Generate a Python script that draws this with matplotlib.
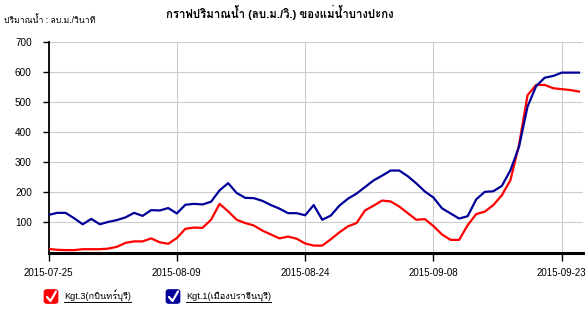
import matplotlib
matplotlib.use("Agg")
import matplotlib.pyplot as plt
import numpy as np
import pandas as pd
from matplotlib import font_manager
from matplotlib.ft2font import FT2Font
from matplotlib.lines import Line2D
from matplotlib.patches import FancyBboxPatch

# data (daily, 2015-07-25 .. 2015-09-25)
start_date = "2015-07-25"
kgt3 = [12, 9, 8, 8, 11, 11, 11, 13, 19, 32, 37, 37, 47, 34, 29, 48, 79, 83, 82, 109,
        162, 137, 109, 98, 90, 73, 60, 47, 53, 46, 30, 23, 23, 44, 67, 87, 98, 140, 156, 173,
        170, 153, 131, 109, 111, 88, 60, 42, 42, 91, 128, 136, 158, 191, 241, 358, 524, 558, 558, 547,
        544, 541, 536]
kgt1 = [125, 132, 132, 114, 94, 112, 94, 102, 108, 117, 132, 122, 141, 140, 148, 130, 159, 162, 160, 169,
        207, 231, 198, 182, 181, 172, 158, 146, 131, 131, 124, 158, 109, 123, 156, 179, 196, 218, 240, 256,
        273, 273, 254, 230, 203, 183, 147, 130, 113, 121, 177, 202, 204, 222, 274, 352, 486, 554, 582, 588,
        599, 599, 599]
x_ticks = ["2015-07-25", "2015-08-09", "2015-08-24", "2015-09-08", "2015-09-23"]
y_ticks = [100, 200, 300, 400, 500, 600, 700]
series_names = ["Kgt.3(กบินทร์บุรี)", "Kgt.1(เมืองปราจีนบุรี)"]
series_colors = ["#ff0000", "#000099"]
title = "กราฟปริมาณน้ำ (ลบ.ม./วิ.) ของแม่น้ำบางปะกง"
unit_label = "ปริมาณน้ำ : ลบ.ม./วินาที"


def thai_font():
    for f in font_manager.fontManager.ttflist:
        try:
            if 0x0E01 in FT2Font(f.fname).get_charmap():
                return f.name
        except Exception:
            pass
    return "DejaVu Sans"


plt.rcParams["font.family"] = ["Liberation Sans", thai_font(), "DejaVu Sans"]

W, H = 587, 310
fig = plt.figure(figsize=(W / 100, H / 100), dpi=100)
ax = fig.add_axes([48.5 / W, 1 - 252.5 / H, (583 - 48.5) / W, (252.5 - 42.3) / H])

dates = pd.date_range(start_date, periods=len(kgt3), freq="D")
ax.plot(dates, kgt3, color=series_colors[0], lw=1.6, zorder=3)
ax.plot(dates, kgt1, color=series_colors[1], lw=1.6, zorder=3)

x0 = pd.Timestamp(start_date)
ax.set_xlim(x0, x0 + pd.Timedelta(days=62.48))
ax.set_ylim(0, 700)
ax.set_xticks(pd.to_datetime(x_ticks))
ax.set_xticklabels(x_ticks)
ax.set_yticks(y_ticks)
ax.set_yticklabels([str(v) for v in y_ticks])
ax.grid(True, color="#cccccc", lw=0.8, zorder=0)
ax.tick_params(axis="x", length=6, width=1, pad=5, labelsize=7)
ax.tick_params(axis="y", length=4, width=1, pad=8, labelsize=7.2)
for s in ["top", "right"]:
    ax.spines[s].set_visible(False)
ax.spines["bottom"].set_linewidth(2.2)
ax.spines["left"].set_linewidth(1.3)

fig.text(280 / W, 1 - 12.5 / H, title, ha="center", va="center", fontsize=8.2, fontweight="bold")
fig.text(4 / W, 1 - 20 / H, unit_label, ha="left", va="center", fontsize=6.2)

# legend with checkbox squares and underlined labels
leg_y = 296.5
box_x = [44, 166]
texts = []
for bx, name, col in zip(box_x, series_names, series_colors):
    fig.patches.append(FancyBboxPatch((bx / W, 1 - (leg_y + 7) / H), 14 / W, 14 / H,
                                      boxstyle="round,pad=0,rounding_size=0.006",
                                      transform=fig.transFigure, facecolor=col,
                                      edgecolor=col, lw=0.5))
    cx = np.array([bx + 3, bx + 6.5, bx + 12])
    cy = np.array([leg_y + 0.5, leg_y + 4.5, leg_y - 5])
    fig.add_artist(Line2D(cx / W, 1 - cy / H, color="white", lw=1.6,
                          solid_capstyle="round", transform=fig.transFigure))
    t = fig.text((bx + 20) / W, 1 - leg_y / H, name, ha="left", va="center", fontsize=6.6)
    texts.append(t)

fig.canvas.draw()
r = fig.canvas.get_renderer()
for t in texts:
    bb = t.get_window_extent(r)
    yl = 1 - (leg_y + 5.5) / H
    fig.add_artist(Line2D([bb.x0 / W, bb.x1 / W], [yl, yl], color="black", lw=0.7,
                          transform=fig.transFigure))

fig.savefig("out.png", dpi=100)
